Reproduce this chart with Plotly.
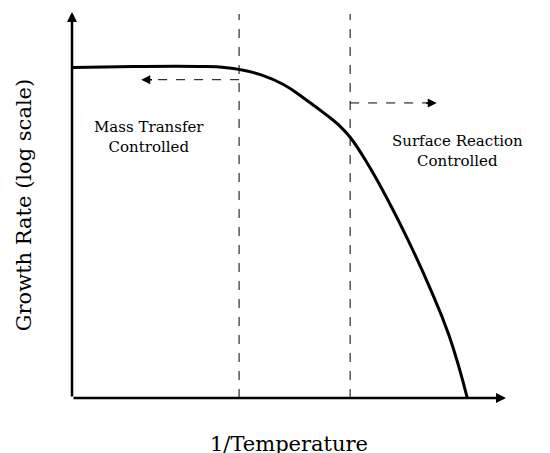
import plotly.graph_objects as go

# curve points (x: 1/T units, y: log growth rate units)
curve_x = [0, 60, 130, 150, 165, 185, 208, 230, 250, 262, 273, 290, 310, 330, 350, 370, 388]
curve_y = [327, 328, 328, 327, 325, 320, 310, 295, 280, 270, 258, 232, 196, 156, 112, 62, 0]
dash_x = [164, 273]
labels = ["Mass Transfer<br>Controlled", "Surface Reaction<br>Controlled"]
label_x = [76, 378]
label_y = [258, 244]

F = "DejaVu Serif"
fig = go.Figure()
fig.add_trace(go.Scatter(x=curve_x, y=curve_y, mode="lines", line=dict(color="black", width=3, shape="spline", smoothing=1.3), hoverinfo="skip"))
for dx in dash_x:
    fig.add_trace(go.Scatter(x=[dx, dx], y=[0, 380], mode="lines", line=dict(color="black", width=1, dash="dash"), hoverinfo="skip"))
fig.add_trace(go.Scatter(x=[164, 75], y=[315, 315], mode="lines", line=dict(color="black", width=1, dash="dash"), hoverinfo="skip"))
fig.add_trace(go.Scatter(x=[273, 350], y=[292, 292], mode="lines", line=dict(color="black", width=1, dash="dash"), hoverinfo="skip"))

ann = []
for lx, ly, t in zip(label_x, label_y, labels):
    ann.append(dict(x=lx, y=ly, text=t, showarrow=False, font=dict(family=F, size=15, color="black"), align="center"))
A = dict(axref="x", ayref="y", showarrow=True, arrowhead=2, arrowcolor="black", text="")
ann.append(dict(x=68, y=315, ax=80, ay=315, arrowsize=1.2, arrowwidth=1.5, **A))
ann.append(dict(x=358, y=292, ax=346, ay=292, arrowsize=1.2, arrowwidth=1.5, **A))
ann.append(dict(x=0, y=382, ax=0, ay=0, arrowsize=0.8, arrowwidth=2.5, **A))
ann.append(dict(x=426, y=0, ax=0, ay=0, arrowsize=0.8, arrowwidth=2.5, **A))
ann.append(dict(xref="paper", yref="paper", x=-0.11, y=0.5, xanchor="center", yanchor="middle",
                text="Growth Rate (log scale)", textangle=-90, showarrow=False, font=dict(family=F, size=21, color="black")))
ann.append(dict(xref="paper", yref="paper", x=0.5, y=-0.12, xanchor="center", yanchor="middle",
                text="1/Temperature", showarrow=False, font=dict(family=F, size=21, color="black")))

fig.update_layout(width=550, height=453, margin=dict(l=64, r=52, t=4, b=63, pad=0),
                  paper_bgcolor="white", plot_bgcolor="white", showlegend=False,
                  annotations=ann)
fig.update_xaxes(range=[0, 426], visible=False)
fig.update_yaxes(range=[0, 382], visible=False)
fig.write_html("out.html")
